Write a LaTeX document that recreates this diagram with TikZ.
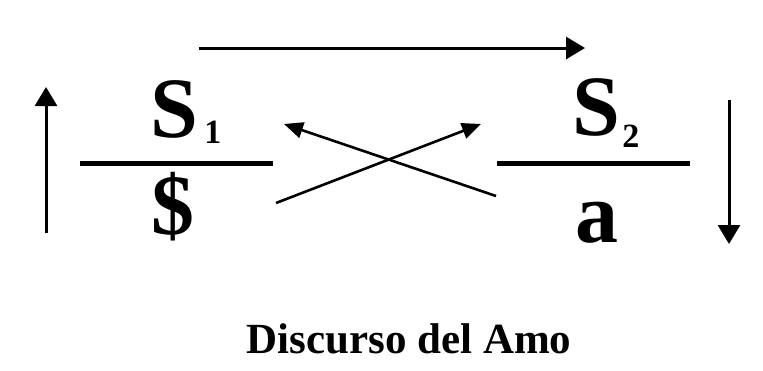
\documentclass[tikz,border=0pt]{standalone}
\usepackage{fontspec}
\setmainfont{Liberation Serif}
\usetikzlibrary{arrows.meta}
\tikzset{
  flow/.style={line width=3pt,-{Triangle[length=19pt,width=22pt]}},
  cross/.style={line width=2.6pt,-{Triangle[length=19pt,width=16pt]}},
  bar/.style={line width=5pt},
  sym/.style={inner sep=0pt,anchor=base,font=\bfseries\fontsize{86}{86}\selectfont},
  idx/.style={inner sep=0pt,anchor=base west,font=\bfseries\fontsize{34}{34}\selectfont},
}
\begin{document}
\begin{tikzpicture}[x=1pt,y=-1pt]
\useasboundingbox (0,0) rectangle (763,370);

% upper row: agent and other
\node[sym] (s1) at (174,137) {S};
\node[idx] (i1) at (s1.base east) [yshift=-6pt,xshift=6pt] {1};
\node[sym] (s2) at (596,135) {S};
\node[idx] (i2) at (s2.base east) [yshift=-12pt,xshift=2pt] {2};

% lower row: truth and production
\node[sym] (sd) at (173,234) {\$};
\node[sym] (a) at (597,242) {a};

% fraction bars
\coordinate (l1) at (80,163);  \coordinate (r1) at (273,163);
\coordinate (l2) at (497,163); \coordinate (r2) at (690,163);
\draw[bar] (l1) -- (r1);
\draw[bar] (l2) -- (r2);

% outer circuit
\coordinate (upA) at (46,233);  \coordinate (upB) at (46,87);
\coordinate (topA) at (199,48); \coordinate (topB) at (585,48);
\coordinate (dnA) at (729,100); \coordinate (dnB) at (729,244);
\draw[flow] (upA) -- (upB);
\draw[flow] (topA) -- (topB);
\draw[flow] (dnA) -- (dnB);

% crossing arrows
\coordinate (xl) at (276,203); \coordinate (xr) at (496,196);
\coordinate (tl) at (284,124); \coordinate (tr) at (481,124);
\draw[cross] (xr) -- (tl);
\draw[cross] (xl) -- (tr);

% caption
\node[inner sep=0pt,anchor=base,font=\bfseries\fontsize{43}{43}\selectfont] (cap) at (409,353) {Discurso del Amo};
\end{tikzpicture}
\end{document}
